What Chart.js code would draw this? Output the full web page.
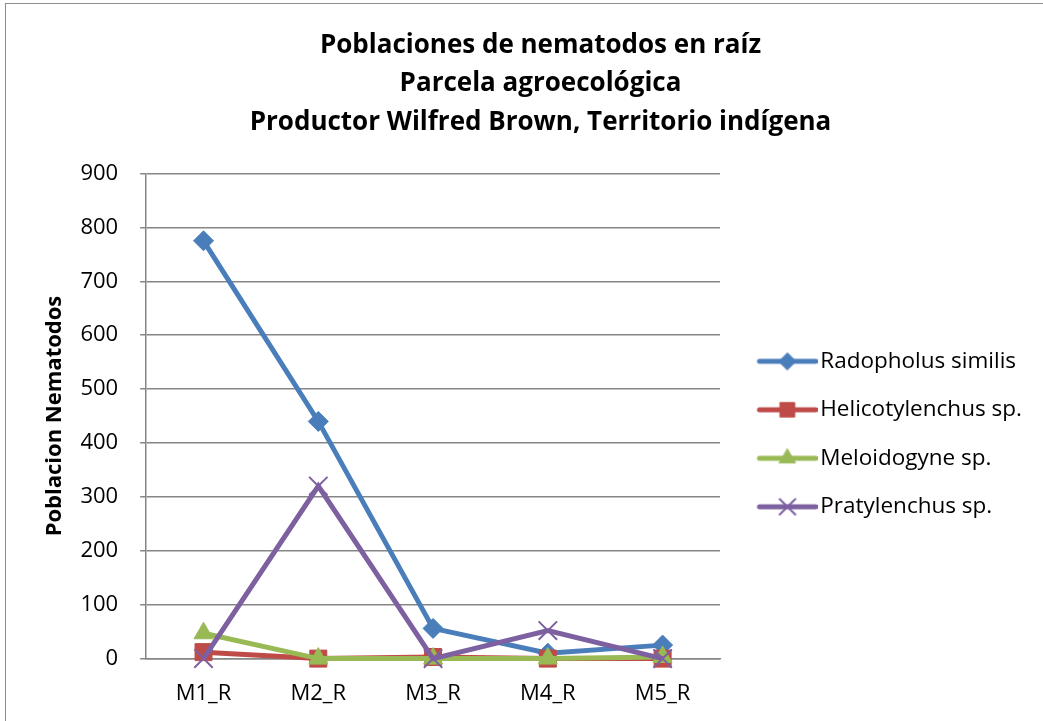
<!DOCTYPE html>
<html>
<head>
<meta charset="utf-8">
<script src="https://cdn.jsdelivr.net/npm/chart.js@4.4.1/dist/chart.umd.min.js"></script>
<style>
html,body{margin:0;padding:0;background:#fff;}
#frame{position:absolute;left:5px;top:3px;width:1100px;height:800px;border-left:1.5px solid #8c8c8c;border-top:1.5px solid #8c8c8c;}
#wrap{position:absolute;left:0;top:0;width:1043px;height:721px;}
</style>
</head>
<body>
<div id="frame"></div>
<div id="wrap"><canvas id="c" width="1043" height="721"></canvas></div>
<script>
const categories = ["M1_R", "M2_R", "M3_R", "M4_R", "M5_R"];
const radopholus = [775, 440, 56, 10, 25];
const helicotylenchus = [12, 0, 3, 0, 0];
const meloidogyne = [47, 0, 0, 0, 3];
const pratylenchus = [0, 320, 0, 52, 0];
const titleLines = ["Poblaciones de nematodos en raíz", "Parcela agroecológica", "Productor Wilfred Brown, Territorio indígena"];
const yTitle = "Poblacion Nematodos";

const FONT = "'Open Sans', sans-serif";
const LEGEND_WIDTH = 323;
const LEGEND_SHIFT = 18;
const series = [
  {label: "Radopholus similis", data: radopholus, color: "#4A7EBB", style: "rectRot", r: 10, bw: 1},
  {label: "Helicotylenchus sp.", data: helicotylenchus, color: "#BE4B48", style: "rect", r: 12, bw: 1},
  {label: "Meloidogyne sp.", data: meloidogyne, color: "#98B954", style: "triangle", r: 11, bw: 1},
  {label: "Pratylenchus sp.", data: pratylenchus, color: "#7D60A0", style: "crossRot", r: 13, bw: 2}
];

function legendImage(s) {
  const cv = document.createElement('canvas');
  cv.width = 80; cv.height = 26;
  const ctx = cv.getContext('2d');
  ctx.strokeStyle = s.color; ctx.lineWidth = 5; ctx.lineCap = 'round';
  ctx.beginPath(); ctx.moveTo(22, 13); ctx.lineTo(78, 13); ctx.stroke();
  ctx.fillStyle = s.color; ctx.strokeStyle = s.color;
  ctx.lineWidth = s.bw;
  Chart.helpers.drawPoint(ctx, {pointStyle: s.style, radius: s.r * 0.85, rotation: 0, borderWidth: s.bw}, 50, 13);
  return cv;
}

const legendFix = {
  id: 'legendFix',
  beforeLayout(chart) {
    const L = chart.legend;
    if (L && !L._patched) {
      const fit = L.fit.bind(L);
      L.fit = function () { fit(); this.width = LEGEND_WIDTH; };
      L._patched = true;
    }
  },
  afterLayout(chart) {
    const L = chart.legend;
    if (L) { L.top += LEGEND_SHIFT; L.bottom += LEGEND_SHIFT; }
  }
};

function build() {
  const n = series.length;
  const datasets = series.map((s, i) => ({
    label: s.label,
    data: s.data,
    order: n - i,
    clip: false,
    borderColor: s.color,
    backgroundColor: s.color,
    borderWidth: 5,
    tension: 0,
    pointStyle: s.style,
    pointRadius: s.r,
    pointHoverRadius: s.r,
    pointBorderWidth: s.bw,
    pointBackgroundColor: s.color,
    pointBorderColor: s.color,
    _img: legendImage(s)
  }));

  new Chart(document.getElementById('c'), {
    type: 'line',
    data: {labels: categories, datasets: datasets},
    plugins: [legendFix],
    options: {
      responsive: false,
      animation: false,
      devicePixelRatio: 1,
      layout: {padding: {left: 38, right: 0, top: 0, bottom: -8}},
      plugins: {
        title: {
          display: true,
          text: titleLines,
          color: '#000',
          font: {family: FONT, size: 26, weight: 'bold', lineHeight: 1.48},
          padding: {top: 26, bottom: 32}
        },
        legend: {
          position: 'right',
          fullSize: false,
          labels: {
            usePointStyle: true,
            pointStyleWidth: 63,
            padding: 26,
            color: '#000',
            font: {family: FONT, size: 22.5},
            generateLabels: (chart) => {
              const base = Chart.defaults.plugins.legend.labels.generateLabels(chart);
              base.sort((a, b) => a.datasetIndex - b.datasetIndex);
              return base.map(it => Object.assign(it, {pointStyle: chart.data.datasets[it.datasetIndex]._img, lineWidth: 0}));
            }
          }
        },
        tooltip: {enabled: false}
      },
      scales: {
        x: {
          offset: true,
          grid: {display: false, drawTicks: false},
          border: {display: true, color: '#868686', width: 1.5},
          ticks: {color: '#000', font: {family: FONT, size: 22}, padding: 22}
        },
        y: {
          min: 0, max: 900,
          ticks: {stepSize: 100, color: '#000', font: {family: FONT, size: 22}, padding: 22},
          grid: {color: '#868686', lineWidth: 1.5, tickLength: 6, drawTicks: true},
          border: {display: true, color: '#868686', width: 1.5},
          title: {display: true, text: yTitle, color: '#000', font: {family: FONT, size: 22, weight: 'bold'}, padding: {top: 4, bottom: -10}}
        }
      }
    }
  });
}

Promise.all([
  document.fonts.load("22px 'Open Sans'"),
  document.fonts.load("bold 26px 'Open Sans'"),
  document.fonts.load("bold 22px 'Open Sans'")
]).then(build, build);
</script>
</body>
</html>
